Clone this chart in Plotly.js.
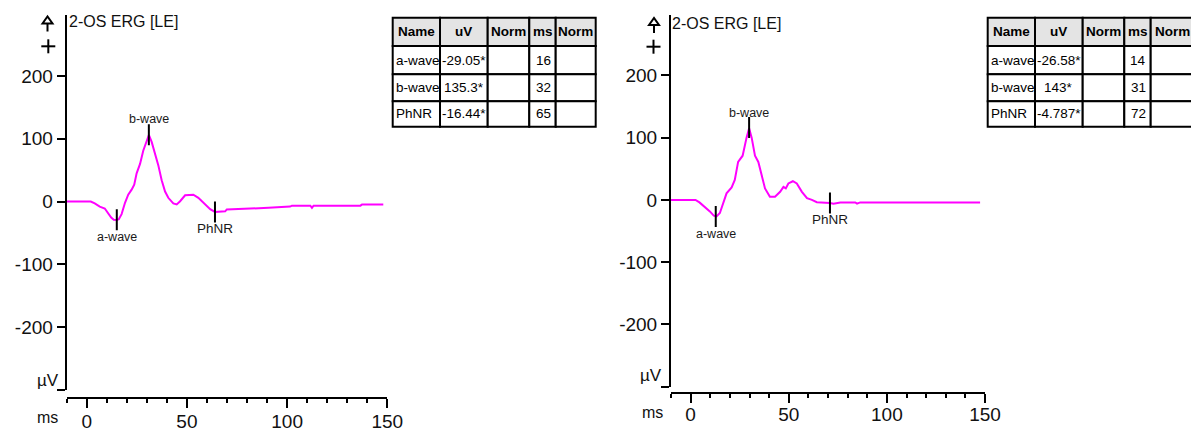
<!DOCTYPE html>
<html>
<head>
<meta charset="utf-8">
<script src="https://cdn.plot.ly/plotly-3.0.1.min.js"></script>
<style>html,body{margin:0;padding:0;background:#fff;}#chart{width:1191px;height:432px;}</style>
</head>
<body>
<div id="chart"></div>
<script>
// ---- data ----
const panelTitle = '2-OS ERG [LE]';
const tableHeader = ['Name', 'uV', 'Norm', 'ms', 'Norm'];
const waveNames = ['a-wave', 'b-wave', 'PhNR'];

const leftAmp = [-29.05, 135.3, -16.44];
const leftPeakMs = [16, 32, 65];
const leftMarkerMs = [15, 31, 64];
const leftMs = [-10, 2, 4, 6.5, 9, 10.5, 12.2, 13.5, 15, 16, 17.4, 19.1, 20.7, 22.4, 23.7, 24.9, 26.6, 28.2, 29.9, 31, 32.4, 34.1, 35.7, 37.4, 39.1, 40.7, 43.2, 44.9, 46.6, 49.1, 53.2, 55.7, 58.2, 61.6, 64, 66.6, 69.1, 69.9, 89.9, 90.7, 101.5, 102.4, 111.6, 112.4, 113.2, 136.6, 137.4, 148];
const leftUv = [0, 0, -3, -8, -11, -17.7, -25.5, -29, -29.5, -28, -20, -2, 11, 19, 27, 45, 60, 81, 95, 106, 95, 76, 58, 34, 16, 6, -3, -4.5, 0.5, 10, 11, 6, -2, -12, -16.5, -16.5, -15.5, -12.5, -11, -10, -8, -6.5, -6.5, -10, -6.5, -6.5, -4.5, -4.5];

const rightAmp = [-26.58, 143, -4.787];
const rightPeakMs = [14, 31, 72];
const rightMarkerMs = [12.8, 29.8, 71];
const rightMs = [-10, 2.5, 4.5, 7.2, 9.8, 11.8, 13.2, 14.9, 16.6, 18.3, 20.9, 22.5, 24.2, 26.5, 28.5, 29.8, 31.1, 32.8, 34.5, 36.2, 37.9, 40.4, 43, 45.6, 47.3, 48.5, 49.8, 52.1, 54.1, 56.7, 59.3, 61.8, 64.3, 71, 72.8, 76.3, 83.9, 84.8, 86.4, 147.5];
const rightUv = [0, 0, -4, -10.6, -18.5, -25.4, -26.6, -21, -5, 10.6, 20, 32, 61, 71, 100, 115, 100, 71, 61, 40, 18.5, 5, 5, 13, 21, 18.5, 26.5, 30, 26.5, 13, 2.7, 0, -3.7, -4.8, -6, -4, -4, -6, -4, -4];

const xTicks = [0, 50, 100, 150];
const yTicks = [-300, -200, -100, 0, 100, 200];
const yTickText = ['', '-200', '-100', '0', '100', '200'];

// ---- helpers ----
const W = 1191, H = 432;
const px = x => x / W;
const py = y => 1 - y / H;
const FONT = 'Liberation Sans, Arial, sans-serif';
const markerUv = amp => [amp[0], amp[0] + amp[1], amp[2]];

function curveTrace(xs, ys, xa, ya) {
  return {x: xs, y: ys, xaxis: xa, yaxis: ya, type: 'scatter', mode: 'lines',
          line: {color: '#ff00ff', width: 2}, hoverinfo: 'skip', showlegend: false};
}
function markerTrace(xs, amp, xa, ya) {
  return {x: xs, y: markerUv(amp), xaxis: xa, yaxis: ya, type: 'scatter', mode: 'markers',
          marker: {symbol: 'line-ns-open', size: 15, color: '#000', line: {width: 2, color: '#000'}},
          hoverinfo: 'skip', showlegend: false};
}

function xAxis(d0, d1, pos, standoff) {
  return {domain: [px(d0), px(d1)], range: [-10, 150], anchor: 'free', position: py(pos),
          showline: true, linewidth: 2, linecolor: '#000', showgrid: false, zeroline: false,
          ticks: 'outside', tickvals: xTicks, ticklen: 9, tickwidth: 2, tickcolor: '#000',
          ticklabelstandoff: standoff,
          minor: {dtick: 10, tick0: 0, ticks: 'outside', ticklen: 4, tickwidth: 2, tickcolor: '#000', showgrid: false},
          tickfont: {family: FONT, size: 19, color: '#111'}, fixedrange: true};
}
function yAxis(bot, top, anchor) {
  return {domain: [py(bot), py(top)], range: [-300, 297], anchor: anchor,
          showline: true, linewidth: 2, linecolor: '#000', showgrid: false, zeroline: false,
          ticks: 'outside', tickvals: yTicks, ticktext: yTickText, ticklen: 8, tickwidth: 2, tickcolor: '#000',
          tickfont: {family: FONT, size: 19, color: '#111'}, fixedrange: true};
}

const annotations = [];
const shapes = [];

function txt(x, y, text, size, anchor, extra) {
  annotations.push(Object.assign({xref: 'paper', yref: 'paper', x: px(x), y: py(y), text: text,
    showarrow: false, xanchor: anchor || 'center', yanchor: 'middle',
    font: {family: FONT, size: size, color: '#111'}}, extra || {}));
}

function panelDecor(axX, titleY, arrow, plusC, uvPos, msPos) {
  txt(axX, titleY, panelTitle, 16, 'left');
  const [ax, ay] = arrow;
  shapes.push({type: 'path', xref: 'paper', yref: 'paper',
    path: `M ${px(ax - 5)},${py(ay + 7)} L ${px(ax)},${py(ay)} L ${px(ax + 5)},${py(ay + 7)} Z`,
    line: {color: '#000', width: 2}, fillcolor: '#fff'});
  shapes.push({type: 'line', xref: 'paper', yref: 'paper', x0: px(ax), x1: px(ax), y0: py(ay + 7), y1: py(ay + 15),
    line: {color: '#000', width: 2}});
  const [cx, cy] = plusC;
  shapes.push({type: 'line', xref: 'paper', yref: 'paper', x0: px(cx - 7), x1: px(cx + 7), y0: py(cy), y1: py(cy), line: {color: '#000', width: 2}});
  shapes.push({type: 'line', xref: 'paper', yref: 'paper', x0: px(cx), x1: px(cx), y0: py(cy - 7), y1: py(cy + 7), line: {color: '#000', width: 2}});
  txt(uvPos[0], uvPos[1], 'µV', 17);
  txt(msPos[0], msPos[1], 'ms', 16);
}

function waveLabels(xs, amp, xa, ya, shifts) {
  const ys = markerUv(amp);
  waveNames.forEach((n, i) => {
    annotations.push({xref: xa, yref: ya, x: xs[i], y: ys[i], text: n, showarrow: false,
      xanchor: 'center', yanchor: 'middle', yshift: shifts[i],
      font: {family: FONT, size: n === 'PhNR' ? 13.5 : 12.5, color: '#1a1a1a'}});
  });
}

function table(x0, colOff, rows, amp, ms, rightEdge) {
  const cols = colOff.map(o => x0 + o);
  if (rightEdge) cols[cols.length - 1] = rightEdge;
  for (let r = 0; r < rows.length - 1; r++) {
    for (let c = 0; c < cols.length - 1; c++) {
      shapes.push({type: 'rect', xref: 'paper', yref: 'paper',
        x0: px(cols[c]), x1: px(cols[c + 1]), y0: py(rows[r + 1]), y1: py(rows[r]),
        line: {color: '#000', width: 2}, fillcolor: r === 0 ? '#e4e4e4' : '#fff', layer: 'above'});
    }
  }
  const cy = r => (rows[r] + rows[r + 1]) / 2;
  const cx = c => (cols[c] + cols[c + 1]) / 2;
  const f = {font: {family: FONT, size: 13.5, color: '#000'}};
  tableHeader.forEach((h, c) => txt(cx(c), cy(0), '<b>' + h + '</b>', 13.5, 'center', f));
  waveNames.forEach((n, i) => {
    txt(cols[0] + 1.5, cy(i + 1), n, 13.5, 'left', f);
    txt(cx(1), cy(i + 1), String(amp[i]) + '*', 13.5, 'center', f);
    txt(cols[4] - 3, cy(i + 1), String(ms[i]), 13.5, 'right', f);
  });
}

// panels
panelDecor(66.7, 21.5, [47.5, 16.5], [48.3, 46.3], [48, 380], [47.5, 417.5]);
panelDecor(670, 23.5, [654, 18], [653.5, 46.7], [651, 375], [652.5, 412.5]);
waveLabels(leftMarkerMs, leftAmp, 'x', 'y', [15.5, 15.5, -17]);
waveLabels(rightMarkerMs, rightAmp, 'x2', 'y2', [14.5, 14.5, -17]);
annotations.forEach(a => { if (a.text === 'a-wave' && a.xref !== 'paper') a.yshift = -17.5; });

const colOff = [0, 47.3, 95, 136.6, 163, 203];
const rows = [17.7, 46, 74.3, 101.3, 126.7];
table(392.7, colOff, rows, leftAmp, leftPeakMs);
table(987.7, colOff, rows, rightAmp, rightPeakMs, 1194);

const data = [
  curveTrace(leftMs, leftUv, 'x', 'y'),
  markerTrace(leftMarkerMs, leftAmp, 'x', 'y'),
  curveTrace(rightMs, rightUv, 'x2', 'y2'),
  markerTrace(rightMarkerMs, rightAmp, 'x2', 'y2')
];

const layout = {
  width: W, height: H, margin: {l: 0, r: 0, t: 0, b: 0, pad: 0},
  paper_bgcolor: '#fff', plot_bgcolor: 'rgba(0,0,0,0)', showlegend: false, hovermode: false,
  xaxis: xAxis(66.7, 387.3, 398.3, -3),
  yaxis: yAxis(390, 15, 'x'),
  xaxis2: xAxis(671, 985, 392.7, -5),
  yaxis2: yAxis(386.7, 15, 'x2'),
  annotations: annotations,
  shapes: shapes
};

Plotly.newPlot('chart', data, layout, {staticPlot: true, displayModeBar: false});
</script>
</body>
</html>
